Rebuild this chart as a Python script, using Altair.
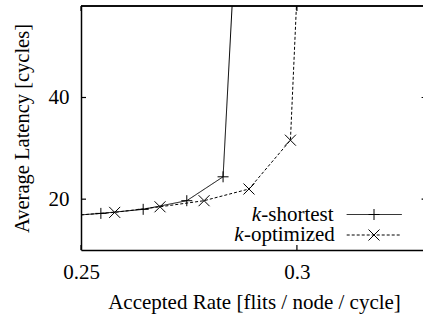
import altair as alt
import pandas as pd

# Accepted rate [flits/node/cycle] vs. average latency [cycles]
# (first and last points of each series lie outside the visible range)
shortest_rate = [0.2450, 0.2546, 0.2644, 0.2745, 0.2829, 0.2876]
shortest_latency = [16.6, 17.2, 18.0, 19.7, 24.4, 100.0]
optimized_rate = [0.2465, 0.2578, 0.2683, 0.2785, 0.2889, 0.2985, 0.3021]
optimized_latency = [16.7, 17.4, 18.5, 19.7, 22.0, 31.6, 100.0]
schemes = ["k-shortest", "k-optimized"]

x_ticks = [0.25, 0.3]
y_ticks = [20, 40]

W, H = 342, 244
FONT = "Liberation Serif, Times New Roman, serif"
FS = 21
PLUS = "M-1,0H1M0,-1V1"
CROSS = "M-1,-1L1,1M-1,1L1,-1"

df = pd.concat([
    pd.DataFrame({"rate": shortest_rate, "latency": shortest_latency, "scheme": schemes[0]}),
    pd.DataFrame({"rate": optimized_rate, "latency": optimized_latency, "scheme": schemes[1]}),
], ignore_index=True)

x_scale = alt.Scale(domain=[0.25, 0.3292], nice=False, zero=False)
y_scale = alt.Scale(domain=[10, 58], nice=False, zero=False)

x_axis = alt.Axis(values=x_ticks, format="~g", ticks=False, tickSize=0, grid=False,
                  labelFlush=False, labelPadding=28, labelBaseline="alphabetic",
                  labelFont=FONT, labelFontSize=FS, labelColor="black",
                  domainColor="black", domainWidth=1.5,
                  title="Accepted Rate [flits / node / cycle]", titleFont=FONT,
                  titleFontSize=FS, titleFontWeight="normal", titleColor="black",
                  titleX=173, titleY=58, titleBaseline="alphabetic", titleAlign="center")
y_axis = alt.Axis(values=y_ticks, ticks=False, tickSize=0, grid=False,
                  labelPadding=12, labelAlign="right", labelBaseline="middle",
                  labelFont=FONT, labelFontSize=FS, labelColor="black",
                  domainColor="black", domainWidth=1.5,
                  title="Average Latency [cycles]", titleFont=FONT, titleFontSize=20.5,
                  titleFontWeight="normal", titleColor="black", titleAngle=270,
                  titleX=-53, titleY=122, titleBaseline="alphabetic", titleAlign="center")

dash_scale = alt.Scale(domain=schemes, range=[[1, 0], [3, 2]])
shape_scale = alt.Scale(domain=schemes, range=[PLUS, CROSS])

base = alt.Chart(df)
lines = base.mark_line(clip=True, color="black", strokeWidth=1).encode(
    x=alt.X("rate:Q", scale=x_scale, axis=x_axis),
    y=alt.Y("latency:Q", scale=y_scale, axis=y_axis),
    strokeDash=alt.StrokeDash("scheme:N", scale=dash_scale, legend=None),
    order="rate:Q",
)
points = base.mark_point(clip=True, filled=False, color="black", strokeWidth=1, size=121, opacity=1).encode(
    x=alt.X("rate:Q", scale=x_scale, axis=x_axis),
    y=alt.Y("latency:Q", scale=y_scale, axis=y_axis),
    shape=alt.Shape("scheme:N", scale=shape_scale, legend=None),
)

# inward (and mirrored) tick marks
ytick_df = pd.DataFrame({"latency": y_ticks})
xtick_df = pd.DataFrame({"rate": x_ticks})
tick_style = dict(color="black", strokeWidth=1.2)
ytick_left = alt.Chart(ytick_df).mark_rule(**tick_style).encode(
    y=alt.Y("latency:Q", scale=y_scale, axis=y_axis), x=alt.value(0), x2=alt.value(5))
ytick_right = alt.Chart(ytick_df).mark_rule(**tick_style).encode(
    y=alt.Y("latency:Q", scale=y_scale, axis=y_axis), x=alt.value(W - 1.4), x2=alt.value(W))
xtick_bottom = alt.Chart(xtick_df).mark_rule(**tick_style).encode(
    x=alt.X("rate:Q", scale=x_scale, axis=x_axis), y=alt.value(H), y2=alt.value(H - 5))
xtick_top = alt.Chart(xtick_df).mark_rule(**tick_style).encode(
    x=alt.X("rate:Q", scale=x_scale, axis=x_axis), y=alt.value(0), y2=alt.value(5))
top_border = alt.Chart(ytick_df).mark_rule(color="black", strokeWidth=1.5).encode(
    x=alt.value(0), x2=alt.value(W), y=alt.value(0))

# key: label, then line sample with marker
legend_layers = []
key_rows = [
    ("-shortest", 170.7, 215, 208.5, [1, 0], PLUS),
    ("-optimized", 153.3, 235, 229, [3, 2], CROSS),
]
for suffix, kx, base_y, line_y, dash, shape in key_rows:
    one = alt.Chart(pd.DataFrame({"k": ["k"], "s": [suffix]}))
    legend_layers.append(one.mark_text(font=FONT, fontSize=FS, fontStyle="italic", align="left",
                                       baseline="alphabetic", color="black").encode(
        text="k:N", x=alt.value(kx), y=alt.value(base_y)))
    legend_layers.append(one.mark_text(font=FONT, fontSize=FS, align="left",
                                       baseline="alphabetic", color="black").encode(
        text="s:N", x=alt.value(kx + 9.6), y=alt.value(base_y)))
    legend_layers.append(one.mark_rule(color="black", strokeWidth=1, strokeDash=dash).encode(
        x=alt.value(265.7), x2=alt.value(320.7), y=alt.value(line_y)))
    legend_layers.append(one.mark_point(filled=False, color="black", strokeWidth=1, size=121,
                                        opacity=1, shape=shape).encode(
        x=alt.value(293), y=alt.value(line_y)))

chart = alt.layer(
    lines, points, ytick_left, ytick_right, xtick_bottom, xtick_top, top_border, *legend_layers
).properties(
    width=W, height=H,
    autosize=alt.AutoSizeParams(type="none"),
    padding={"left": 81, "top": 6, "right": 0, "bottom": 72},
    background="white",
).configure_view(stroke=None)

chart.save("out.html", embed_options={"renderer": "svg", "actions": False})
